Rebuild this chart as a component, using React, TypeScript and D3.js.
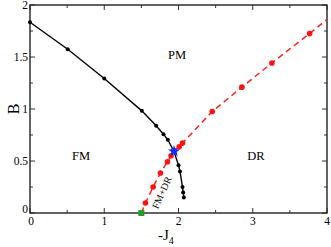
import React from "react";
import * as d3 from "d3";

// black solid line: FM / PM boundary and FM / DR boundary
const blackX = [0, 0.508, 1.0, 1.506, 1.699, 1.798, 1.856, 1.94, 2.0, 2.02, 2.054, 2.063, 2.072];
const blackY = [1.834, 1.574, 1.293, 0.982, 0.838, 0.758, 0.704, 0.592, 0.458, 0.4, 0.25, 0.198, 0.15];
const blackMarked = [true, true, true, true, true, true, true, false, true, true, true, true, true];

// red dashed line
const redX = [1.5, 1.555, 1.658, 1.757, 1.852, 1.9, 1.94, 2.009, 2.054, 2.454, 2.854, 3.258, 3.766, 4.0];
const redY = [0, 0.096, 0.25, 0.384, 0.493, 0.55, 0.592, 0.637, 0.672, 0.976, 1.21, 1.443, 1.725, 1.862];
const redMarked = [false, true, true, true, true, true, false, true, true, true, true, true, true, false];

const xTicks = [0, 1, 2, 3, 4];
const yTicks = [0, 0.5, 1, 1.5, 2];
const yTickLabels = ["0", "0.5", "1", "1.5", "2"];

const W = 331;
const H = 247;
const margin = { left: 30, right: 4, top: 5, bottom: 34 };

const font = "Liberation Serif, Times New Roman, serif";

export default function App() {
  const x = d3.scaleLinear().domain([0, 4]).range([margin.left, W - margin.right]);
  const y = d3.scaleLinear().domain([0, 2]).range([H - margin.bottom, margin.top]);

  const blackPts = blackX.map((v, i) => [v, blackY[i]] as [number, number]);
  const redPts = redX.map((v, i) => [v, redY[i]] as [number, number]);

  const ln = d3
    .line<[number, number]>()
    .x((d) => x(d[0]))
    .y((d) => y(d[1]));

  const xMinor = d3.range(0, 4.01, 0.5);
  const yMinor = d3.range(0, 2.01, 0.25);

  const x0 = x(0), x1 = x(4), y0 = y(0), y1 = y(2);

  const star = d3.symbol().type(d3.symbolStar).size(45)();
  const cross = d3.symbol().type(d3.symbolCross).size(30)();

  return (
    <svg width={W} height={H} style={{ position: "absolute", left: 0, top: 0 }}>
      <rect width={W} height={H} fill="white" />
      {/* ticks */}
      {xMinor.map((t) => {
        const len = t % 1 === 0 ? 5 : 3;
        return (
          <g key={"xt" + t} stroke="#333" strokeWidth={1}>
            <line x1={x(t)} x2={x(t)} y1={y0} y2={y0 - len} />
            <line x1={x(t)} x2={x(t)} y1={y1} y2={y1 + len} />
          </g>
        );
      })}
      {yMinor.map((t) => {
        const len = t % 0.5 === 0 ? 5 : 3;
        return (
          <g key={"yt" + t} stroke="#333" strokeWidth={1}>
            <line x1={x0} x2={x0 + len} y1={y(t)} y2={y(t)} />
            <line x1={x1} x2={x1 - len} y1={y(t)} y2={y(t)} />
          </g>
        );
      })}
      <rect x={x0} y={y1} width={x1 - x0} height={y0 - y1} fill="none" stroke="#222" strokeWidth={1.4} />

      {/* tick labels */}
      {xTicks.map((t) => (
        <text key={"xl" + t} x={x(t) + (t === 0 ? 1 : 0)} y={y0 + 12} fontFamily={font} fontSize={11.5} textAnchor="middle">
          {t}
        </text>
      ))}
      {yTicks.map((t, i) => (
        <text key={"yl" + t} x={x0 - 2} y={y(t) + (t === 0 ? 0 : 4)} fontFamily={font} fontSize={11.5} textAnchor="end">
          {yTickLabels[i]}
        </text>
      ))}

      {/* axis titles */}
      <text x={14} y={y(1)} fontFamily={font} fontSize={16} textAnchor="middle" transform={`rotate(-90,14,${y(1)})`} dy={5}>
        B
      </text>
      <text x={158} y={240} fontFamily={font} fontSize={15}>
        -J<tspan fontSize={10} dy={4}>4</tspan>
      </text>

      {/* region labels */}
      <text x={177} y={59} fontFamily={font} fontSize={12.5} textAnchor="middle">PM</text>
      <text x={81} y={160} fontFamily={font} fontSize={12.5} textAnchor="middle">FM</text>
      <text x={256} y={160} fontFamily={font} fontSize={12.5} textAnchor="middle">DR</text>
      <text
        x={165}
        y={194}
        fontFamily={font}
        fontSize={10}
        textAnchor="middle"
        transform="rotate(-66,165,194)"
      >
        FM+DR
      </text>

      {/* lines */}
      <path d={ln(redPts) ?? ""} fill="none" stroke="#ff2020" strokeWidth={1.5} strokeDasharray="6,4" />
      <path d={ln(blackPts) ?? ""} fill="none" stroke="black" strokeWidth={1.4} />
      {redPts.map((p, i) =>
        redMarked[i] ? <circle key={"r" + i} cx={x(p[0])} cy={y(p[1])} r={2.8} fill="#ff1010" /> : null
      )}
      {blackPts.map((p, i) =>
        blackMarked[i] ? <circle key={"b" + i} cx={x(p[0])} cy={y(p[1])} r={2} fill="black" /> : null
      )}
      {/* critical point and starting point */}
      <g transform={`translate(${x(1.94)},${y(0.592)})`} fill="#1030ff">
        <path d={star ?? ""} />
        <path d={cross ?? ""} transform="rotate(45)" />
      </g>
      <rect x={x(1.5) - 3} y={y(0) - 3} width={6} height={6} fill="#20a020" />
    </svg>
  );
}
